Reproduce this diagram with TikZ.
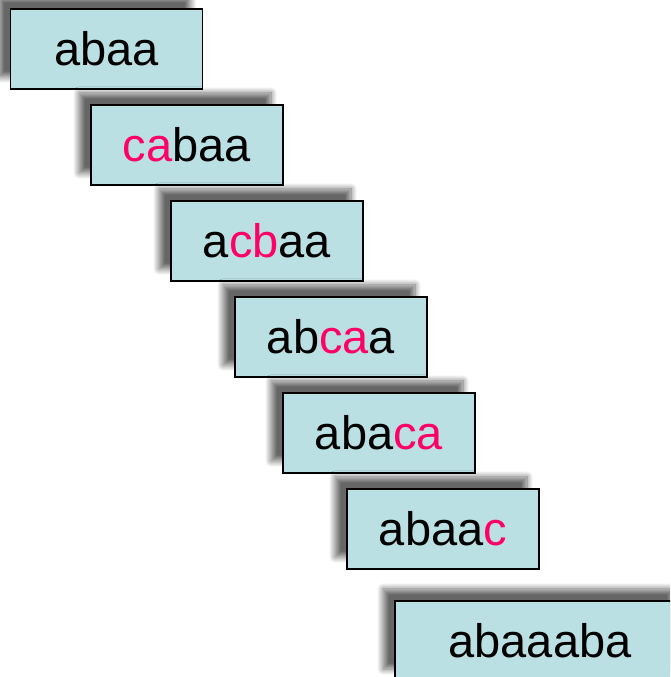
\documentclass[tikz,border=0pt]{standalone}
\usepackage{fontspec}
\setmainfont{Liberation Sans}
\usetikzlibrary{shadows.blur}
\definecolor{boxfill}{HTML}{BBE0E3}
\definecolor{hl}{HTML}{FF0066}
\newcommand{\hlt}[1]{\textcolor{hl}{#1}}
\tikzset{
  strbox/.style={draw=black, line width=1.5pt, fill=boxfill,
    minimum width=192pt, minimum height=80pt, inner sep=0pt, outer sep=0pt,
    font=\fontsize{47}{50}\selectfont,
    blur shadow={shadow xshift=-12pt, shadow yshift=12pt,
      shadow blur radius=6pt, shadow blur steps=12, shadow opacity=60}}
}
\begin{document}
\begin{tikzpicture}[x=1pt,y=1pt]
  \path[use as bounding box] (0,0) rectangle (670,677);
  \clip (0,0) rectangle (670,677);
  \node[strbox] (s1) at (106.5,628) {abaa};
  \node[strbox] (s2) at (187,532) {\hlt{ca}baa};
  \node[strbox] (s3) at (267,436) {a\hlt{cb}aa};
  \node[strbox] (s4) at (331,340) {ab\hlt{ca}a};
  \node[strbox] (s5) at (379,244) {aba\hlt{ca}};
  \node[strbox] (s6) at (443,148) {abaa\hlt{c}};
  \node[strbox, minimum width=290pt] (s7) at (540,36) {abaaaba};
\end{tikzpicture}
\end{document}
